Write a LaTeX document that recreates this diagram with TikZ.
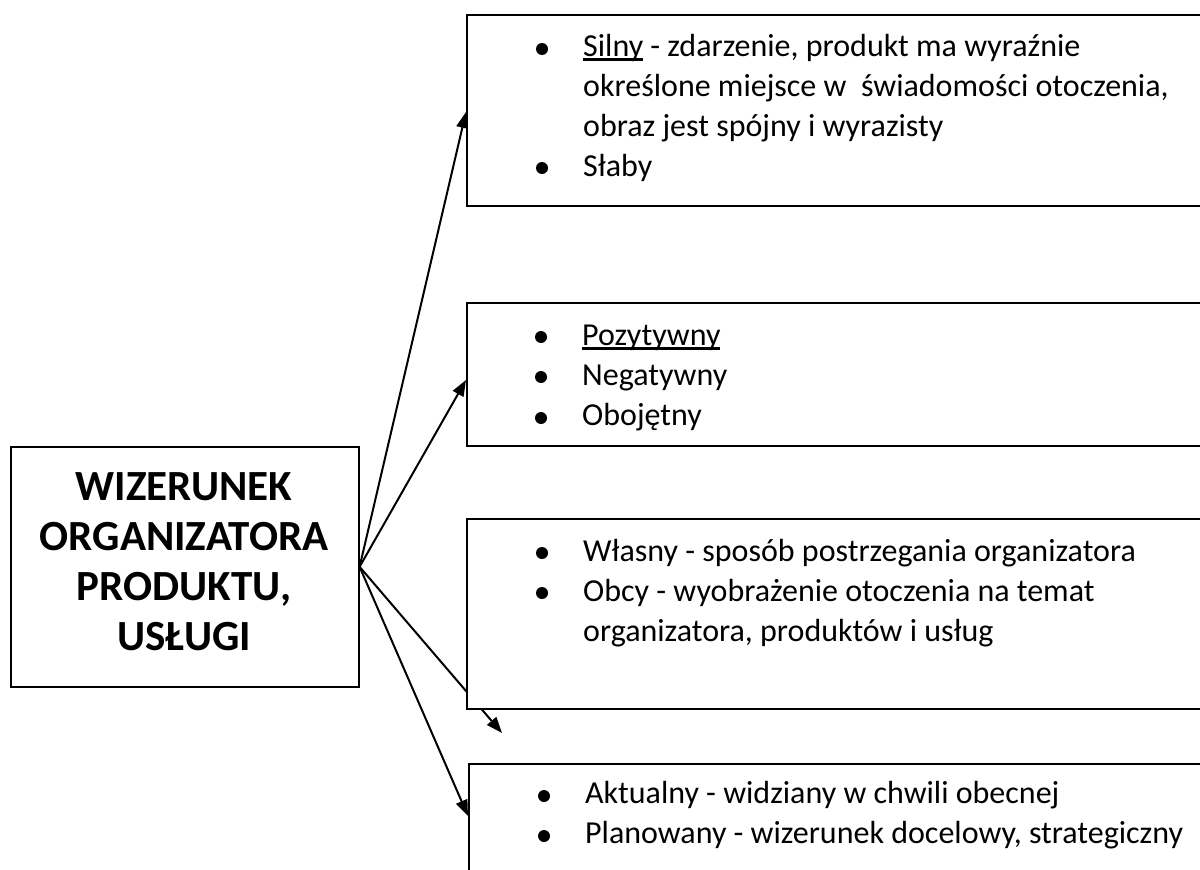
\documentclass[tikz,border=0pt]{standalone}
\usepackage{fontspec}
\setmainfont{Carlito}
\usetikzlibrary{arrows.meta}
\newcommand{\ulin}[1]{\setbox0\hbox{#1}\rlap{\rule[-4.5pt]{\wd0}{2.4pt}}\box0\relax}
\begin{document}
\begin{tikzpicture}[x=1pt,y=-1pt,
  frame/.style={draw=black, line width=1.6pt, fill=white, inner sep=0pt, anchor=north west},
  conn/.style={line width=2pt, -{Triangle[length=16pt,width=12pt]}},
  bul/.style={circle, fill=black, inner sep=0pt, minimum size=12pt},
  txt/.style={anchor=base west, inner sep=0pt, font=\fontsize{32}{38}\selectfont},
  ttl/.style={anchor=base, inner sep=0pt, font=\fontsize{43}{50}\selectfont\bfseries}]
\useasboundingbox (0,0) rectangle (1200,870);
\clip (0,0) rectangle (1200,870);
% main box
\node[frame, minimum width=348pt, minimum height=240pt] (main) at (10,446) {};
\node[ttl] (m1) at (184,500) {WIZERUNEK};
\node[ttl] (m2) at (184,550) {ORGANIZATORA};
\node[ttl] (m3) at (184,600) {PRODUKTU,};
\node[ttl] (m4) at (184,650) {USŁUGI};
% arrow end points
\coordinate (free3) at (502,733);
% connectors (drawn before the boxes, which cover them)
\draw[conn] (main.east) -- (466,112);
\draw[conn] (main.east) -- (466,380);
\draw[conn] (main.east) -- (free3);
\draw[conn] (main.east) -- (468,816);
% right boxes
\node[frame, minimum width=760pt, minimum height=191pt] (b1) at (466,14) {};
\node[frame, minimum width=760pt, minimum height=143pt] (b2) at (466,302) {};
\node[frame, minimum width=760pt, minimum height=190pt] (b3) at (466,518) {};
\node[frame, minimum width=760pt, minimum height=140pt] (b4) at (468,763) {};
% box 1
\node[bul] (d11) at (542,49) {};
\node[txt] (t11) at (583,56) {\ulin{Silny} - zdarzenie, produkt ma wyraźnie};
\node[txt] (t12) at (583,96) {określone miejsce w \ świadomości otoczenia,};
\node[txt] (t13) at (583,136) {obraz jest spójny i wyrazisty};
\node[bul] (d12) at (542,168) {};
\node[txt] (t14) at (583,176) {Słaby};
% box 2
\node[bul] (d21) at (541,337) {};
\node[txt] (t21) at (582,345) {\ulin{Pozytywny}};
\node[bul] (d22) at (541,377) {};
\node[txt] (t22) at (582,385) {Negatywny};
\node[bul] (d23) at (541,418) {};
\node[txt] (t23) at (582,425) {Obojętny};
% box 3
\node[bul] (d31) at (542,553) {};
\node[txt] (t31) at (583,561) {Własny - sposób postrzegania organizatora};
\node[bul] (d32) at (542,593) {};
\node[txt] (t32) at (583,601) {Obcy - wyobrażenie otoczenia na temat};
\node[txt] (t33) at (583,641) {organizatora, produktów i usług};
% box 4
\node[bul] (d41) at (544,796) {};
\node[txt] (t41) at (585,803) {Aktualny - widziany w chwili obecnej};
\node[bul] (d42) at (544,836) {};
\node[txt] (t42) at (585,843) {Planowany - wizerunek docelowy, strategiczny};
\end{tikzpicture}
\end{document}
